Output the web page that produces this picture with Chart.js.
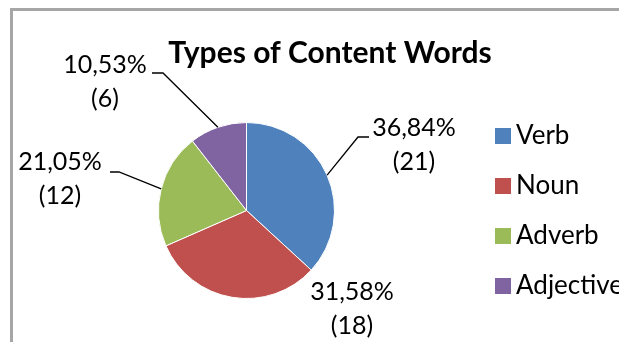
<!DOCTYPE html>
<html>
<head>
<meta charset="utf-8">
<script src="https://cdn.jsdelivr.net/npm/chart.js@4.4.1/dist/chart.umd.min.js"></script>
<style>
  html, body { margin: 0; padding: 0; background: #fff; }
  #wrap { position: relative; width: 619px; height: 342px; overflow: hidden; }
  #frame { position: absolute; left: 10px; top: 8px; width: 700px; height: 400px;
           border-left: 3px solid #a6a6a6; border-top: 3px solid #a6a6a6; }
  canvas { position: absolute; left: 0; top: 0; }
</style>
</head>
<body>
<div id="wrap">
  <div id="frame"></div>
  <canvas id="c" width="619" height="342"></canvas>
</div>
<script>
// ---- data ----
const categories = ["Verb", "Noun", "Adverb", "Adjective"];
const counts = [21, 18, 12, 6];
const percentLabels = ["36,84%", "31,58%", "21,05%", "10,53%"];
const titleText = "Types of Content Words";

// ---- styles / layout (kept separate from data) ----
const colors = ["#4F81BD", "#C0504D", "#9BBB59", "#8064A2"];
const labelLayout = [
  { x: 414, y: 128, elbow: [358, 137], end: [369, 137] },
  { x: 352, y: 292, elbow: null, end: null },
  { x: 60,  y: 162, elbow: [119, 172], end: [110, 172] },
  { x: 105, y: 65,  elbow: [163, 73],  end: [152, 73] }
];
const FONT = "Lato, 'Open Sans', sans-serif";

const overlay = {
  id: 'overlay',
  afterDraw(chart) {
    const ctx = chart.ctx;
    const meta = chart.getDatasetMeta(0);
    ctx.save();
    // title
    ctx.fillStyle = '#000';
    ctx.font = "bold 30px " + FONT;
    ctx.textAlign = 'center';
    ctx.textBaseline = 'alphabetic';
    ctx.fillText(titleText, 330, 63);

    // data labels + leader lines
    meta.data.forEach((arc, i) => {
      const L = labelLayout[i];
      if (L.elbow) {
        const mid = (arc.startAngle + arc.endAngle) / 2;
        const sx = arc.x + Math.cos(mid) * arc.outerRadius;
        const sy = arc.y + Math.sin(mid) * arc.outerRadius;
        ctx.strokeStyle = '#000';
        ctx.lineWidth = 1.3;
        ctx.beginPath();
        ctx.moveTo(sx, sy);
        ctx.lineTo(L.elbow[0], L.elbow[1]);
        ctx.lineTo(L.end[0], L.end[1]);
        ctx.stroke();
      }
      ctx.fillStyle = '#000';
      ctx.font = "25px " + FONT;
      ctx.textAlign = 'center';
      ctx.textBaseline = 'middle';
      ctx.fillText(percentLabels[i], L.x, L.y);
      ctx.fillText("(" + counts[i] + ")", L.x, L.y + 34);
    });

    // legend
    ctx.font = "26px " + FONT;
    ctx.textAlign = 'left';
    ctx.textBaseline = 'middle';
    categories.forEach((name, i) => {
      const cy = 136 + i * 50;
      ctx.fillStyle = colors[i];
      ctx.fillRect(495, cy - 8, 16, 16);
      ctx.fillStyle = '#000';
      ctx.fillText(name, 516, cy);
    });
    ctx.restore();
  }
};

new Chart(document.getElementById('c'), {
  type: 'pie',
  data: {
    labels: categories,
    datasets: [{
      data: counts,
      backgroundColor: colors,
      borderColor: '#ffffff',
      borderWidth: 1
    }]
  },
  options: {
    responsive: false,
    animation: false,
    layout: { padding: { left: 158, right: 284, top: 122, bottom: 43 } },
    plugins: { legend: { display: false }, title: { display: false }, tooltip: { enabled: false } }
  },
  plugins: [overlay]
});
</script>
</body>
</html>
